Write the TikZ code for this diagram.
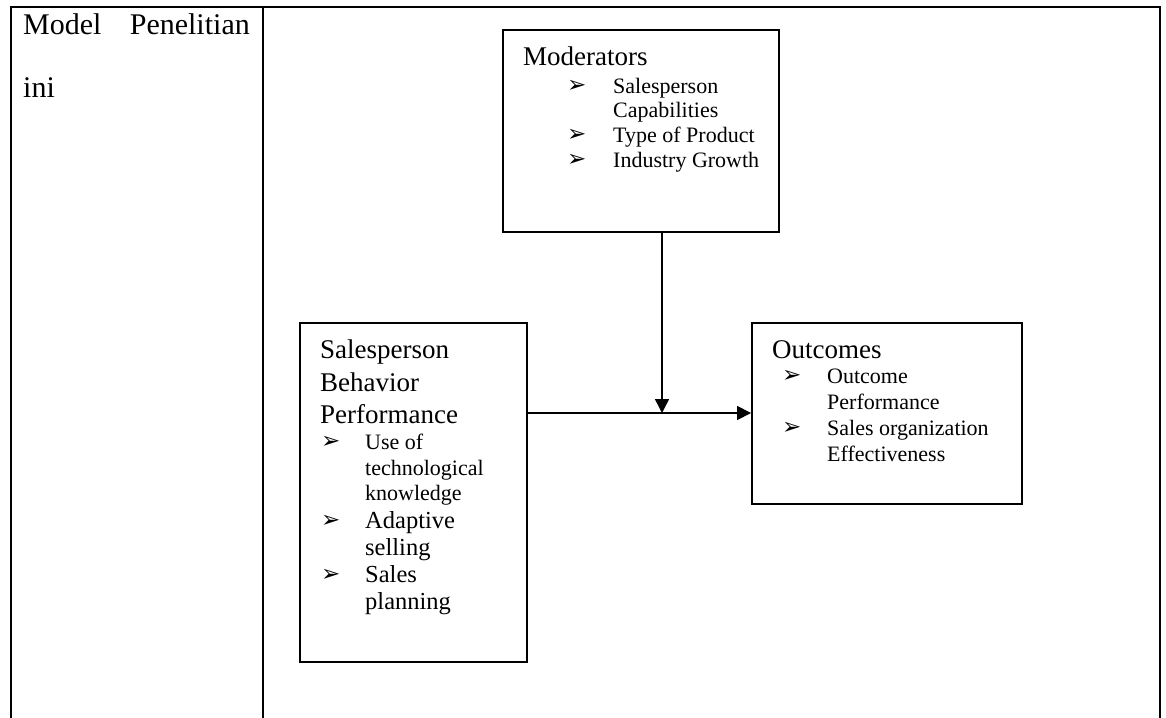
\documentclass[tikz,border=0pt]{standalone}
\usepackage{fontspec}
\setmainfont{Liberation Serif}
\newfontfamily\dingfont{DejaVu Sans}
\usetikzlibrary{arrows.meta}
\begin{document}
\begin{tikzpicture}[x=1pt,y=-1pt,
  rule/.style={line width=2pt, line cap=rect},
  box/.style={draw, line width=1.9pt, rectangle, inner sep=0pt},
  link/.style={line width=1.5pt, -{Triangle[length=14pt,width=14pt]}},
  head/.style={anchor=base west, inner sep=0pt, font=\fontsize{30}{33}\selectfont},
  big/.style={anchor=base west, inner sep=0pt, font=\fontsize{27}{30}\selectfont},
  small/.style={anchor=base west, inner sep=0pt, font=\fontsize{22}{25}\selectfont},
  mid/.style={anchor=base west, inner sep=0pt, font=\fontsize{24.5}{27}\selectfont},
  bul/.style={anchor=base west, inner sep=0pt, font=\dingfont\fontsize{23}{24}\selectfont}]
\useasboundingbox (0,0) rectangle (1166,717);

% table frame
\draw[rule] (11,717) -- (11,7) -- (1160,7) -- (1160,717);
\draw[rule] (263,7) -- (263,717);

% left column caption
\node[head] (cap1) at (23,35) {Model};
\node[head, anchor=base east] (cap2) at (250,35) {Penelitian};
\node[head] (cap3) at (23,97) {ini};

% boxes
\node[box, minimum width=276pt, minimum height=202pt] (mod) at (641,131) {};
\node[box, minimum width=227pt, minimum height=339pt] (beh) at (413.5,492.5) {};
\node[box, minimum width=270pt, minimum height=181pt] (out) at (887,413.5) {};

% moderators text
\node[big] (m0) at (523,65) {Moderators};
\node[bul] (mb1) at (567,92) {➢};
\node[small] (m1) at (613,93) {Salesperson};
\node[small] (m2) at (613,117) {Capabilities};
\node[bul] (mb3) at (567,141) {➢};
\node[small] (m3) at (613,142) {Type of Product};
\node[bul] (mb4) at (567,166) {➢};
\node[small] (m4) at (613,167) {Industry Growth};

% behavior text
\node[big] (b0) at (320,358) {Salesperson};
\node[big] (b1) at (320,391) {Behavior};
\node[big] (b2) at (320,423) {Performance};
\node[bul] (bb3) at (321,448) {➢};
\node[small] (b3) at (365,449) {Use of};
\node[small] (b4) at (365,475) {technological};
\node[small] (b5) at (365,500) {knowledge};
\node[bul] (bb6) at (321,527) {➢};
\node[mid] (b6) at (365,528) {Adaptive};
\node[mid] (b7) at (365,555) {selling};
\node[bul] (bb8) at (321,581) {➢};
\node[mid] (b8) at (365,582) {Sales};
\node[mid] (b9) at (365,609) {planning};

% outcomes text
\node[big] (o0) at (772,358) {Outcomes};
\node[bul] (ob1) at (782,382) {➢};
\node[small] (o1) at (827,383) {Outcome};
\node[small] (o2) at (827,409) {Performance};
\node[bul] (ob3) at (782,434) {➢};
\node[small] (o3) at (827,435) {Sales organization};
\node[small] (o4) at (827,461) {Effectiveness};

% connectors
\coordinate (j) at (662,413);
\draw[link] (beh.east |- j) -- (out.west |- j);
\draw[link] (mod.south -| j) -- (j);
\end{tikzpicture}
\end{document}
